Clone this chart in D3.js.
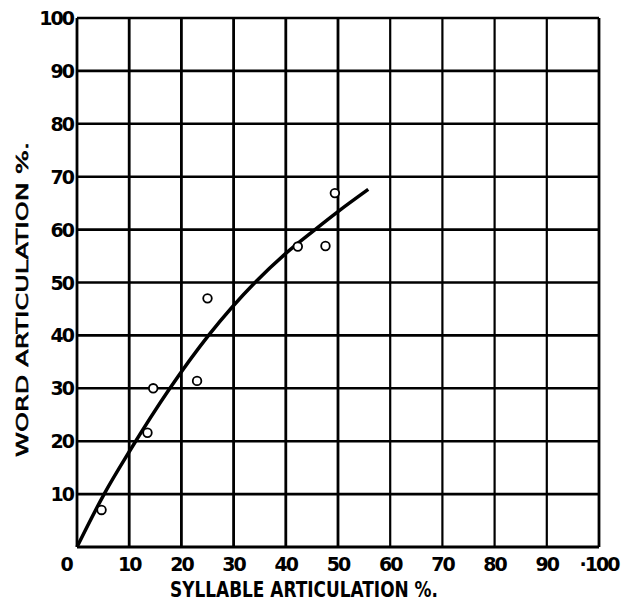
<!DOCTYPE html>
<html><head><meta charset="utf-8">
<script src="https://cdn.jsdelivr.net/npm/d3@7"></script>
<style>body{margin:0;background:#fff}svg{display:block}</style>
</head><body>
<script>
const xTicks = [0,10,20,30,40,50,60,70,80,90,100];
const yTicks = [10,20,30,40,50,60,70,80,90,100];
const xTickLabels = ["0","10","20","30","40","50","60","70","80","90","·100"];
const yTickLabels = ["10","20","30","40","50","60","70","80","90","100"];
const pointsX = [4.7,13.5,14.6,23.0,25.0,42.3,47.6,49.4];
const pointsY = [7.0,21.6,30.0,31.4,47.0,56.8,56.9,66.9];
const curveX = [0,5.2,10,17.8,25.2,34.1,40,45.6,50,55.8];
const curveY = [0,10,18,30,40,50,55.5,60,63.4,67.6];
const xTitle = "SYLLABLE ARTICULATION %.";
const yTitle = "WORD ARTICULATION %.";

const W=621,H=602;
const svg=d3.select("body").append("svg").attr("width",W).attr("height",H);
const x=d3.scaleLinear().domain([0,100]).range([77,599]);
const y=d3.scaleLinear().domain([0,100]).range([547,18]);
const font="'DejaVu Sans', 'Liberation Sans', sans-serif";

const g=svg.append("g");
g.selectAll(".vx").data(xTicks).join("line")
  .attr("x1",d=>x(d)).attr("x2",d=>x(d)).attr("y1",y(100)).attr("y2",y(0))
  .attr("stroke","#000").attr("stroke-width",d=>d>=60&&d<100?2.2:2.8);
g.selectAll(".hy").data([0].concat(yTicks)).join("line")
  .attr("x1",x(0)).attr("x2",x(100)).attr("y1",d=>y(d)).attr("y2",d=>y(d))
  .attr("stroke","#000").attr("stroke-width",d=>d==0?3:2.6);

svg.selectAll(".xt").data(xTicks).join("text")
  .attr("x",d=>d===0?x(d)-11:x(d)).attr("y",571).attr("text-anchor","middle")
  .attr("font-family",font).attr("font-weight","bold").attr("font-size",19)
  .attr("letter-spacing",-2)
  .text((d,i)=>xTickLabels[i]);
svg.selectAll(".yt").data(yTicks).join("text")
  .attr("x",73).attr("y",d=>y(d)+7).attr("text-anchor","end")
  .attr("font-family",font).attr("font-weight","bold").attr("font-size",19)
  .attr("letter-spacing",-2)
  .text((d,i)=>yTickLabels[i]);

svg.append("text").attr("x",170).attr("y",597)
  .attr("font-family",font).attr("font-weight","bold").attr("font-size",21)
  .attr("textLength",268).attr("lengthAdjust","spacingAndGlyphs").text(xTitle);
svg.append("text").attr("transform","translate(28,457) rotate(-90)")
  .attr("font-family",font).attr("font-size",16)
  .attr("stroke","#000").attr("stroke-width",0.6)
  .attr("textLength",315).attr("lengthAdjust","spacingAndGlyphs").text(yTitle);

const cdata=curveX.map((v,i)=>[v,curveY[i]]);
svg.append("path").datum(cdata)
  .attr("d",d3.line().x(d=>x(d[0])).y(d=>y(d[1])).curve(d3.curveMonotoneX))
  .attr("fill","none").attr("stroke","#000").attr("stroke-width",3.5);

const pdata=pointsX.map((v,i)=>[v,pointsY[i]]);
svg.selectAll(".pt").data(pdata).join("circle")
  .attr("cx",d=>x(d[0])).attr("cy",d=>y(d[1])).attr("r",4.3)
  .attr("fill","#fff").attr("stroke","#000").attr("stroke-width",1.8);
</script>
</body></html>
